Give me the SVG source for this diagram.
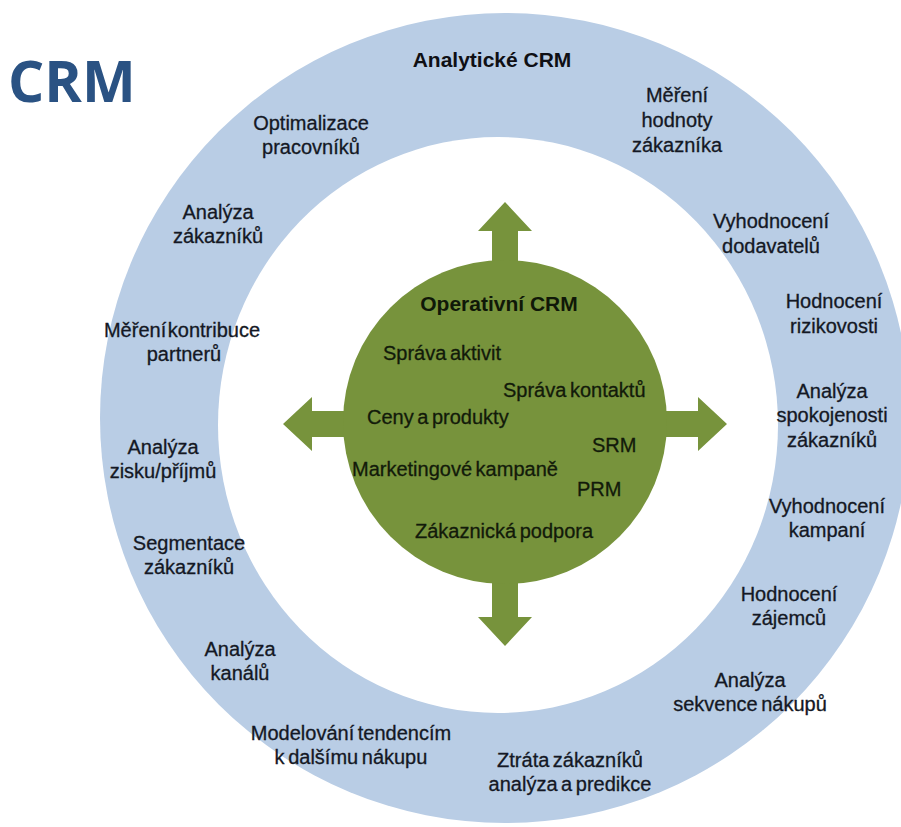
<svg xmlns="http://www.w3.org/2000/svg" width="901" height="827" viewBox="0 0 901 827">
  <style>
    .lbl { font-family: "Liberation Sans", Arial, sans-serif; font-size: 20px; fill: #141824; stroke: #141824; stroke-width: 0.3px; text-anchor: middle; word-spacing: -2px; }
    .op { font-family: "Liberation Sans", Arial, sans-serif; font-size: 20px; fill: #121a0a; stroke: #121a0a; stroke-width: 0.3px; text-anchor: start; word-spacing: -2px; }
    .tight { word-spacing: -4px; }
    .head { font-family: "Liberation Sans", Arial, sans-serif; font-size: 21px; font-weight: bold; fill: #0f0f14; text-anchor: middle; }
    .title { font-family: "Open Sans", "Liberation Sans", sans-serif; font-size: 57px; font-weight: bold; fill: #2a5283; }
    .arrow { fill: #77933c; }
  </style>
  <defs>
    <!-- block arrow pointing up, origin at the hub centre -->
    <path id="arrowUp" d="M-13,0 V-193 H-27 L0,-222 L27,-193 H13 V0 Z"/>
  </defs>

  <rect width="901" height="827" fill="#ffffff"/>

  <g id="title">
    <text class="title" x="8" y="102">CRM</text>
  </g>

  <!-- outer ring: analytical CRM -->
  <g id="ring-analyticke">
    <circle cx="505" cy="418" r="405" fill="#b9cde5"/>
    <ellipse cx="498" cy="425" rx="280" ry="288" fill="#ffffff"/>
    <text class="head" x="492" y="67">Analytické CRM</text>
  </g>

  <!-- arrows from the operational hub -->
  <g id="connectors" class="arrow">
    <use href="#arrowUp" transform="translate(505,424)"/>
    <use href="#arrowUp" transform="translate(505,424) rotate(90)"/>
    <use href="#arrowUp" transform="translate(505,424) rotate(180)"/>
    <use href="#arrowUp" transform="translate(505,424) rotate(270)"/>
  </g>

  <!-- inner hub: operational CRM -->
  <g id="hub-operativni">
    <circle cx="505" cy="422" r="162" fill="#77933c"/>
    <text class="head" x="499" y="311" style="fill:#101808">Operativní CRM</text>
    <text class="op" x="383" y="360">Správa aktivit</text>
    <text class="op" x="503" y="397">Správa kontaktů</text>
    <text class="op" x="367" y="424">Ceny a produkty</text>
    <text class="op" x="592" y="452">SRM</text>
    <text class="op" x="352" y="476">Marketingové kampaně</text>
    <text class="op" x="577" y="496">PRM</text>
    <text class="op" x="415" y="538">Zákaznická podpora</text>
  </g>

  <!-- ring items, clockwise from top left -->
  <g id="optimalizace-pracovniku">
    <text class="lbl" x="311" y="130">Optimalizace</text>
    <text class="lbl" x="311" y="154">pracovníků</text>
  </g>
  <g id="mereni-hodnoty">
    <text class="lbl" x="677" y="102">Měření</text>
    <text class="lbl" x="677" y="127">hodnoty</text>
    <text class="lbl" x="677" y="152">zákazníka</text>
  </g>
  <g id="vyhodnoceni-dodavatelu">
    <text class="lbl" x="771" y="228">Vyhodnocení</text>
    <text class="lbl" x="771" y="253">dodavatelů</text>
  </g>
  <g id="hodnoceni-rizikovosti">
    <text class="lbl" x="834" y="308">Hodnocení</text>
    <text class="lbl" x="834" y="333">rizikovosti</text>
  </g>
  <g id="analyza-spokojenosti">
    <text class="lbl" x="832" y="398">Analýza</text>
    <text class="lbl" x="832" y="422">spokojenosti</text>
    <text class="lbl" x="832" y="447">zákazníků</text>
  </g>
  <g id="vyhodnoceni-kampani">
    <text class="lbl" x="827" y="513">Vyhodnocení</text>
    <text class="lbl" x="827" y="537">kampaní</text>
  </g>
  <g id="hodnoceni-zajemcu">
    <text class="lbl" x="789" y="601">Hodnocení</text>
    <text class="lbl" x="789" y="625">zájemců</text>
  </g>
  <g id="analyza-sekvence">
    <text class="lbl" x="750" y="687">Analýza</text>
    <text class="lbl" x="750" y="711">sekvence nákupů</text>
  </g>
  <g id="ztrata-zakazniku">
    <text class="lbl" x="570" y="767">Ztráta zákazníků</text>
    <text class="lbl" x="570" y="791">analýza a predikce</text>
  </g>
  <g id="modelovani-tendenci">
    <text class="lbl" x="351" y="740">Modelování tendencím</text>
    <text class="lbl" x="351" y="764">k dalšímu nákupu</text>
  </g>
  <g id="analyza-kanalu">
    <text class="lbl" x="240" y="656">Analýza</text>
    <text class="lbl" x="240" y="680">kanálů</text>
  </g>
  <g id="segmentace-zakazniku">
    <text class="lbl" x="189" y="550">Segmentace</text>
    <text class="lbl" x="189" y="574">zákazníků</text>
  </g>
  <g id="analyza-zisku">
    <text class="lbl" x="163" y="454">Analýza</text>
    <text class="lbl" x="163" y="478">zisku/příjmů</text>
  </g>
  <g id="mereni-kontribuce">
    <text class="lbl tight" x="182" y="337">Měření kontribuce</text>
    <text class="lbl" x="184" y="361">partnerů</text>
  </g>
  <g id="analyza-zakazniku">
    <text class="lbl" x="218" y="219">Analýza</text>
    <text class="lbl" x="218" y="243">zákazníků</text>
  </g>
</svg>
